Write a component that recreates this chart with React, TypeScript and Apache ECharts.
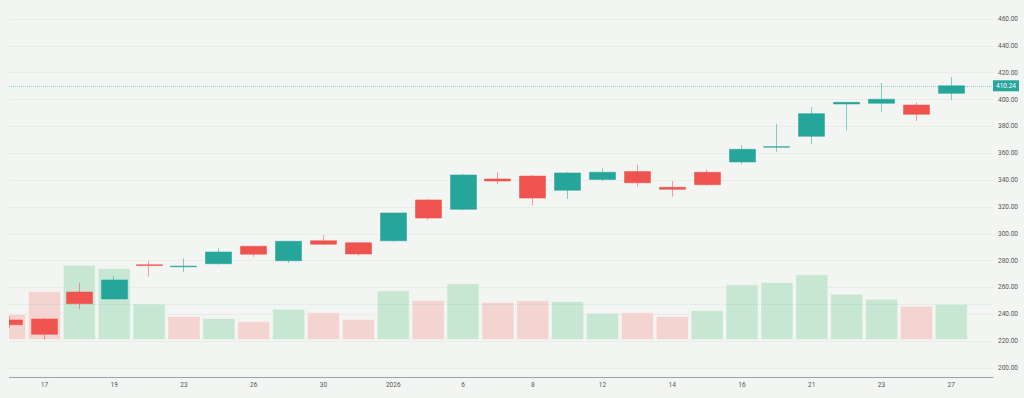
import React, { useEffect, useRef } from 'react';
import * as echarts from 'echarts';

// Trading days shown (Dec 16, 2025 .. Jan 27, 2026)
const dateLabels = ['16', '17', '18', '19', '22', '23', '24', '26', '29', '30', '31', '2026', '5', '6', '7', '8', '9', '12', '13', '14', '15', '16', '20', '21', '22', '23', '26', '27'];

const opens = [235.8, 236.5, 256.6, 251.4, 277.0, 275.4, 277.7, 290.7, 279.9, 294.8, 293.3, 294.8, 325.2, 318.2, 340.8, 343.0, 332.4, 340.5, 346.3, 334.6, 345.8, 353.5, 364.5, 372.6, 396.7, 397.2, 395.9, 404.6];
const closes = [232.3, 225.1, 247.9, 265.6, 276.3, 275.9, 286.4, 284.8, 294.4, 292.2, 284.9, 315.5, 311.7, 343.8, 339.3, 326.6, 345.3, 345.8, 338.0, 333.1, 336.6, 362.9, 364.9, 389.5, 397.9, 400.2, 389.0, 410.24];
const lows = [229.8, 220.9, 244.0, 251.0, 268.0, 271.4, 277.0, 282.9, 278.2, 291.6, 283.7, 294.1, 310.3, 317.5, 337.1, 321.2, 325.9, 339.1, 335.0, 327.6, 335.9, 351.8, 361.1, 366.7, 376.8, 390.9, 384.0, 399.6];
const highs = [238.7, 237.2, 263.5, 268.5, 279.9, 281.6, 289.2, 290.9, 294.6, 298.9, 293.5, 315.7, 325.7, 344.7, 346.0, 343.8, 346.0, 348.5, 351.5, 339.3, 347.7, 366.1, 381.8, 394.4, 398.2, 412.5, 397.9, 416.8];

// Volume (millions) and whether the volume bar is coloured "up"
const volumes = [26.3, 49.0, 75.3, 72.0, 36.3, 24.0, 22.0, 18.7, 31.3, 27.7, 21.0, 49.7, 40.0, 56.7, 38.0, 39.7, 39.0, 27.3, 27.7, 24.0, 30.0, 55.7, 58.0, 65.7, 46.3, 41.3, 34.3, 36.0];
const volumeUp = [false, false, true, true, true, false, true, false, true, false, false, true, false, true, false, false, true, true, false, false, true, true, true, true, true, true, false, true];

const lastPrice = 410.24;
const priceTicks = { min: 180, max: 480, step: 20, labelMin: 200, labelMax: 460 };

const BG = '#f2f5f1';
const UP = '#26a69a';
const DOWN = '#ef5350';
const UP_VOL = '#c8e7d3';
const DOWN_VOL = '#f4d4d1';

const X_MIN = -0.0172;
const X_MAX = 28.194;

// The chart canvas sits at page (-SX, -SY); a wrapper starting at page x=9 clips it.
const SX = 30;
const SY = 10;
const CLIP_LEFT = 9;

export default function App() {
  const ref = useRef<HTMLDivElement>(null);

  useEffect(() => {
    const chart = echarts.init(ref.current!, null, { renderer: 'svg' });
    const candleData = opens.map((o, i) => [i, o, closes[i], lows[i], highs[i]]);
    const volData = volumes.map((v, i) => ({
      value: [i, v],
      itemStyle: { color: volumeUp[i] ? UP_VOL : DOWN_VOL },
    }));

    chart.setOption({
      animation: false,
      backgroundColor: BG,
      textStyle: { fontFamily: 'Roboto, "Noto Sans", sans-serif' },
      grid: [
        { left: SX + 9, right: 31, top: SY - 7.85, bottom: 3.15 },
        { left: SX + 9, right: 31, top: SY + 240, bottom: 58 },
        { left: SX - 25.28, right: 2.88, top: SY, bottom: 21 },
        { left: SX + 9, right: 31, top: SY, bottom: 21 },
      ],
      xAxis: [
        { type: 'value', gridIndex: 0, min: X_MIN, max: X_MAX, show: false },
        { type: 'value', gridIndex: 1, min: X_MIN, max: X_MAX, show: false },
        {
          type: 'value', gridIndex: 2, min: -1, max: 29, interval: 1,
          axisLine: { show: false }, axisTick: { show: false }, splitLine: { show: false },
          axisLabel: {
            fontSize: 6.5, color: '#555', margin: 4,
            formatter: (v: number) => {
              const i = Math.round(v);
              if (Math.abs(v - i) > 1e-6 || i < 0 || i >= dateLabels.length || i % 2 === 0) return '';
              return dateLabels[i];
            },
          },
        },
        {
          type: 'value', gridIndex: 3, min: 0, max: 1,
          axisLine: { show: true, lineStyle: { color: '#9ea3a8', width: 1 } },
          axisTick: { show: false }, axisLabel: { show: false }, splitLine: { show: false },
        },
      ],
      yAxis: [
        {
          type: 'value', gridIndex: 0, position: 'right',
          min: priceTicks.min, max: priceTicks.max, interval: priceTicks.step,
          axisLine: { show: false }, axisTick: { show: false },
          splitLine: { show: true, showMinLine: false, showMaxLine: false, lineStyle: { color: 'rgba(0,0,0,0.035)', width: 1 } },
          axisLabel: {
            fontSize: 6.5, color: '#555', margin: 5,
            formatter: (v: number) => (v < priceTicks.labelMin || v > priceTicks.labelMax ? '' : v.toFixed(2)),
          },
        },
        { type: 'value', gridIndex: 1, min: 0, max: 100, show: false },
        { type: 'value', gridIndex: 2, show: false },
        { type: 'value', gridIndex: 3, show: false },
      ],
      series: [
        {
          type: 'bar',
          xAxisIndex: 1,
          yAxisIndex: 1,
          data: volData,
          barWidth: 33,
          itemStyle: { borderColor: 'rgba(255,255,255,0.35)', borderWidth: 1 },
          markLine: {
            silent: true,
            symbol: ['none', 'none'],
            data: [{ yAxis: volumes[volumes.length - 1] }],
            lineStyle: { type: 'dotted', color: 'rgba(38,166,154,0.18)', width: 1 },
            label: { show: false },
          },
        },
        {
          type: 'candlestick',
          xAxisIndex: 0,
          yAxisIndex: 0,
          data: candleData,
          encode: { x: 0, y: [1, 2, 3, 4] },
          barWidth: 26.5,
          itemStyle: {
            color: UP,
            color0: DOWN,
            borderColor: 'rgba(38,166,154,0.55)',
            borderColor0: 'rgba(239,83,80,0.55)',
            borderWidth: 1,
          },
          markLine: {
            silent: true,
            symbol: ['none', 'none'],
            data: [{ yAxis: lastPrice }],
            lineStyle: { type: 'dotted', color: 'rgba(38,166,154,0.5)', width: 1 },
            label: {
              show: true,
              position: 'end',
              distance: 0,
              formatter: lastPrice.toFixed(2),
              color: '#fff',
              backgroundColor: UP,
              padding: [2, 3, 2, 3],
              fontSize: 6.5,
            },
          },
        },
      ],
    });

    return () => chart.dispose();
  }, []);

  return (
    <div style={{ position: 'fixed', left: 0, top: 0, width: 1024, height: 398, background: BG }}>
      <div style={{ position: 'absolute', left: CLIP_LEFT, top: 0, width: 1024 - CLIP_LEFT, height: 398, overflow: 'hidden' }}>
        <div ref={ref} style={{ position: 'absolute', left: -SX - CLIP_LEFT, top: -SY, width: 1024 + SX, height: 398 + SY }} />
      </div>
    </div>
  );
}
